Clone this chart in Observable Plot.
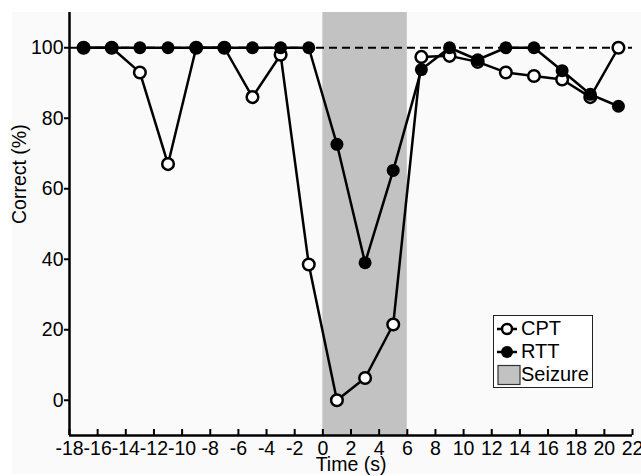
<!DOCTYPE html>
<html>
<head>
<meta charset="utf-8">
<script src="https://cdn.jsdelivr.net/npm/d3@7"></script>
<script src="https://cdn.jsdelivr.net/npm/@observablehq/plot@0.6"></script>
<style>
  html, body { margin: 0; padding: 0; background: #ffffff; }
  #wrap { position: relative; width: 641px; height: 476px; font-family: "Liberation Sans", Arial, sans-serif; overflow: hidden; }
  #bg { position: absolute; left: 12px; top: 12px; width: 629px; height: 462px; background: #fafafa; }
  #chart { position: absolute; left: 0; top: 0; }
  #chart svg { overflow: visible; }
  #legend { position: absolute; left: 493px; top: 315px; width: 98px; height: 70px; border: 1.5px solid #222; background: #fff; font-size: 20px; color: #000; }
  #legend .row { display: flex; align-items: center; height: 23px; }
  #legend svg { display: block; }
</style>
</head>
<body>
<div id="wrap">
  <div id="bg"></div>
  <div id="chart"></div>
  <div id="legend"></div>
</div>
<script>
const time = [-17, -15, -13, -11, -9, -7, -5, -3, -1, 1, 3, 5, 7, 9, 11, 13, 15, 17, 19, 21];
const cpt  = [100, 100, 93, 67, 100, 100, 86, 98, 38.5, 0, 6.3, 21.5, 97.4, 97.7, 96, 93, 92, 91, 86, 100];
const rtt  = [100, 100, 100, 100, 100, 100, 100, 100, 100, 72.6, 39, 65.2, 93.8, 100, 96.6, 100, 100, 93.5, 86.8, 83.4];
const seizure = [{start: 0, end: 6}];
const xTicks = [-18, -16, -14, -12, -10, -8, -6, -4, -2, 0, 2, 4, 6, 8, 10, 12, 14, 16, 18, 20, 22];
const yTicks = [0, 20, 40, 60, 80, 100];
const xDomain = [-18, 22];
const yDomain = [-10, 110];
const refLine = [100];

const cptData = time.map((t, i) => ({t, v: cpt[i]}));
const rttData = time.map((t, i) => ({t, v: rtt[i]}));

const chart = Plot.plot({
  width: 641,
  height: 476,
  marginLeft: 69,
  marginRight: 9,
  marginTop: 12,
  marginBottom: 41,
  style: {background: "transparent", fontFamily: "'Liberation Sans', Arial, sans-serif", fontSize: "19px", color: "#000"},
  x: {domain: xDomain},
  y: {domain: yDomain},
  marks: [
    Plot.rect(seizure, {x1: "start", x2: "end", fill: "#c2c2c2"}),
    Plot.ruleY(refLine, {stroke: "#000", strokeWidth: 2, strokeDasharray: "8,5"}),
    Plot.line(cptData, {x: "t", y: "v", stroke: "#000", strokeWidth: 2.5}),
    Plot.dot(cptData, {x: "t", y: "v", r: 5.8, fill: "#fff", stroke: "#000", strokeWidth: 2.5}),
    Plot.line(rttData, {x: "t", y: "v", stroke: "#000", strokeWidth: 2.5}),
    Plot.dot(rttData, {x: "t", y: "v", r: 6.5, fill: "#000", stroke: "none"}),
    Plot.ruleY([yDomain[0]], {stroke: "#000", strokeWidth: 2.5}),
    Plot.ruleX([xDomain[0]], {stroke: "#000", strokeWidth: 2.5}),
    Plot.axisX(xTicks, {tickSize: -6, tickPadding: 12, strokeWidth: 2, fontSize: 19.5, label: null, tickFormat: d => String(d)}),
    Plot.axisY(yTicks, {tickSize: 5, tickPadding: 1, strokeWidth: 2, fontSize: 19.5, label: null}),
    Plot.text(["Time (s)"], {frameAnchor: "bottom", dy: 35, fontSize: 19.5, fill: "#000"}),
    Plot.text(["Correct (%)"], {frameAnchor: "left", dx: -50, rotate: -90, fontSize: 19.5, fill: "#000"})
  ]
});
document.getElementById("chart").appendChild(chart);

// legend
const legendItems = [
  {label: "CPT", kind: "open"},
  {label: "RTT", kind: "filled"},
  {label: "Seizure", kind: "rect"}
];
const legend = document.getElementById("legend");
legend.style.paddingTop = "1px";
for (const item of legendItems) {
  const row = document.createElement("div");
  row.className = "row";
  const ns = "http://www.w3.org/2000/svg";
  const s = document.createElementNS(ns, "svg");
  s.setAttribute("width", 27);
  s.setAttribute("height", 23);
  if (item.kind === "rect") {
    const r = document.createElementNS(ns, "rect");
    r.setAttribute("x", 4); r.setAttribute("y", 2.5); r.setAttribute("width", 22); r.setAttribute("height", 19);
    r.setAttribute("fill", "#c2c2c2"); r.setAttribute("stroke", "#333"); r.setAttribute("stroke-width", 1.2);
    s.appendChild(r);
  } else {
    const l = document.createElementNS(ns, "line");
    l.setAttribute("x1", 3); l.setAttribute("x2", 23); l.setAttribute("y1", 12); l.setAttribute("y2", 12);
    l.setAttribute("stroke", "#000"); l.setAttribute("stroke-width", 2.5);
    s.appendChild(l);
    const c = document.createElementNS(ns, "circle");
    c.setAttribute("cx", 13); c.setAttribute("cy", 12);
    if (item.kind === "open") {
      c.setAttribute("r", 5); c.setAttribute("fill", "#fff"); c.setAttribute("stroke", "#000"); c.setAttribute("stroke-width", 2.5);
    } else {
      c.setAttribute("r", 6); c.setAttribute("fill", "#000");
    }
    s.appendChild(c);
  }
  row.appendChild(s);
  const t = document.createElement("span");
  t.textContent = item.label;
  t.style.lineHeight = "23px";
  row.appendChild(t);
  legend.appendChild(row);
}
</script>
</body>
</html>
